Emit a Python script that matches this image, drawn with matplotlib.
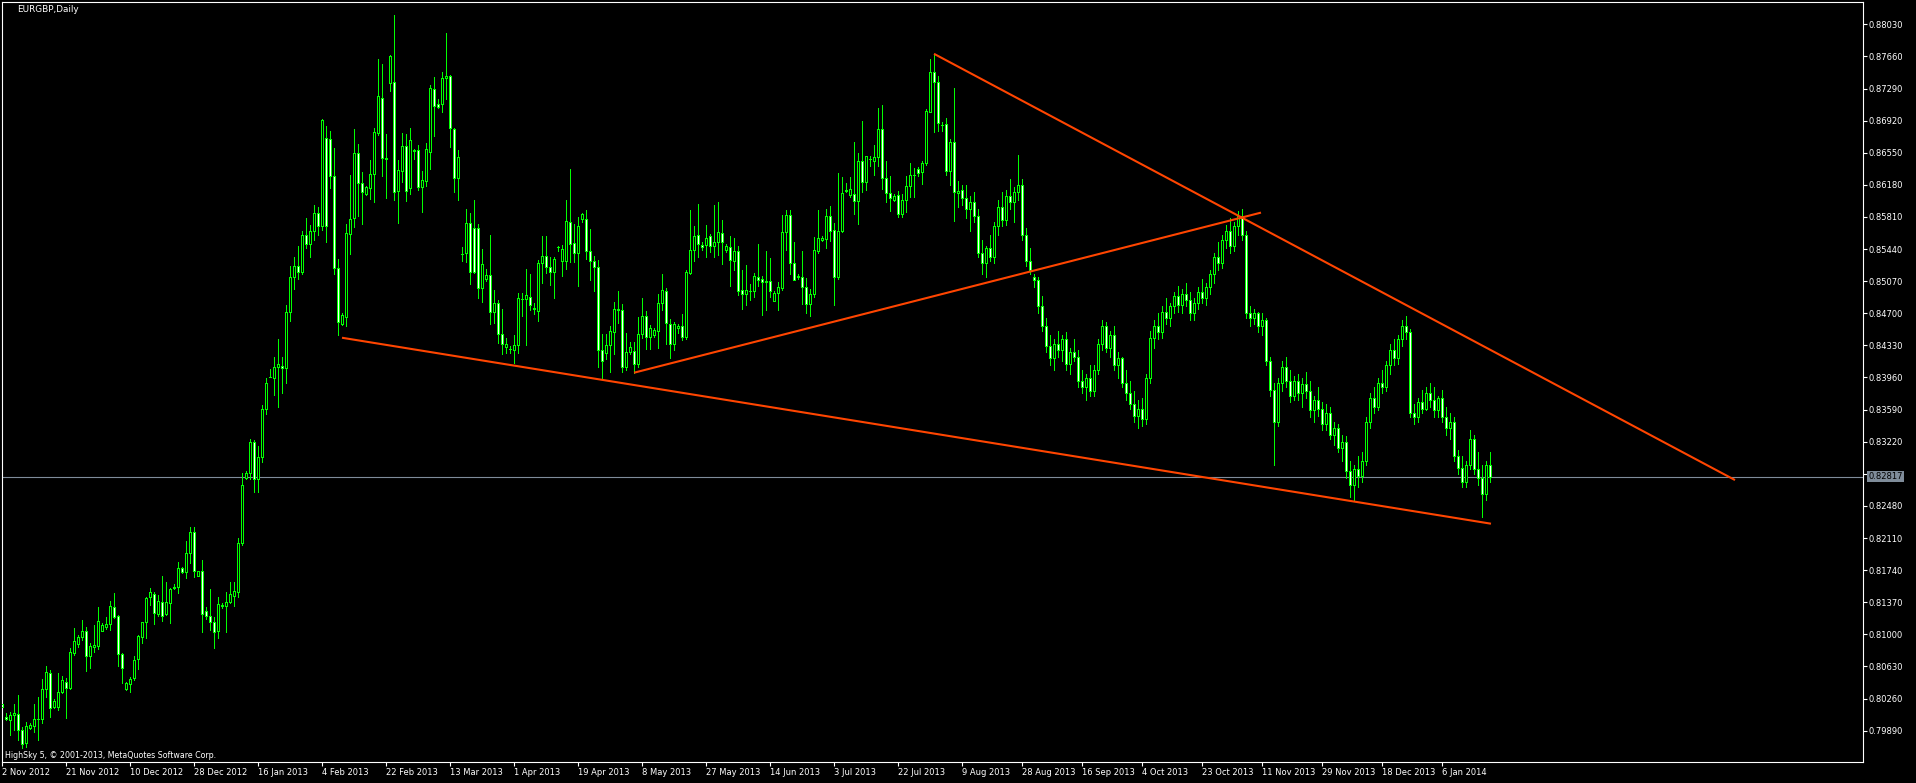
import numpy as np
import matplotlib.pyplot as plt

# EURGBP daily candles, first bar index -1 (prices)
opens = [0.80200, 0.80048, 0.80010, 0.80067, 0.80082, 0.79898, 0.79744, 0.79917, 0.79948, 0.80021,
         0.80021, 0.80367, 0.80551, 0.80167, 0.80167, 0.80340, 0.80447, 0.80386, 0.80789, 0.80885,
         0.80966, 0.81039, 0.80755, 0.80859, 0.80866, 0.81043, 0.81081, 0.81116, 0.81312, 0.81208,
         0.80770, 0.80367, 0.80424, 0.80494, 0.80713, 0.80974, 0.81139, 0.81427, 0.81466, 0.81235,
         0.81377, 0.81231, 0.81366, 0.81530, 0.81542, 0.81769, 0.81723, 0.81934, 0.82176, 0.81677,
         0.81727, 0.81266, 0.81216, 0.81139, 0.81039, 0.81331, 0.81331, 0.81377, 0.81446, 0.81493,
         0.82057, 0.82806, 0.82856, 0.83214, 0.82787, 0.83048, 0.83594, 0.83963, 0.83951, 0.84078,
         0.84094, 0.84067, 0.84712, 0.85115, 0.85250, 0.85180, 0.85600, 0.85500, 0.85650, 0.85850,
         0.85711, 0.86717, 0.86706, 0.86287, 0.85227, 0.84573, 0.84662, 0.85611, 0.85803, 0.86544,
         0.86199, 0.86076, 0.86141, 0.86302, 0.86782, 0.87186, 0.86479, 0.87351, 0.87363, 0.86114,
         0.86344, 0.86633, 0.86141, 0.86580, 0.86579, 0.86160, 0.86229, 0.86563, 0.87282, 0.87109,
         0.87109, 0.87409, 0.87436, 0.86825, 0.86256, 0.85385, 0.85392, 0.85737, 0.85680, 0.85680,
         0.84996, 0.85092, 0.85138, 0.84720, 0.84816, 0.84458, 0.84316, 0.84290, 0.84274, 0.84332,
         0.84870, 0.84862, 0.84893, 0.84755, 0.84731, 0.85277, 0.85365, 0.85238, 0.85173, 0.85465,
         0.85307, 0.85304, 0.85749, 0.85507, 0.85400, 0.85784, 0.85784, 0.85423, 0.85307, 0.85231,
         0.84278, 0.84239, 0.84335, 0.84489, 0.84746, 0.84739, 0.84086, 0.84251, 0.84262, 0.84113,
         0.84458, 0.84670, 0.84425, 0.84444, 0.84501, 0.84816, 0.84959, 0.84574, 0.84344, 0.84528,
         0.84555, 0.84425, 0.85162, 0.85424, 0.85597, 0.85489, 0.85489, 0.85593, 0.85470, 0.85516,
         0.85623, 0.85431, 0.85462, 0.85308, 0.85412, 0.84970, 0.84920, 0.84960, 0.84951, 0.85116,
         0.85097, 0.85055, 0.85074, 0.84836, 0.84932, 0.84989, 0.85635, 0.85835, 0.85285, 0.85120,
         0.85123, 0.85008, 0.84804, 0.84923, 0.85423, 0.85546, 0.85557, 0.85822, 0.85661, 0.85123,
         0.85650, 0.86110, 0.86065, 0.86072, 0.85999, 0.86460, 0.86210, 0.86480, 0.86460, 0.86506,
         0.86825, 0.86257, 0.86084, 0.86007, 0.86065, 0.85845, 0.86007, 0.86161, 0.86295, 0.86360,
         0.86326, 0.86429, 0.87025, 0.87478, 0.87363, 0.86875, 0.86879, 0.86345, 0.86679, 0.86084,
         0.86122,
         0.8603, 0.8590, 0.8598, 0.8582, 0.8540, 0.8528, 0.8545, 0.8535, 0.8570, 0.8592,
         0.8578, 0.8605, 0.8598, 0.8610, 0.8618, 0.8560, 0.8530, 0.8512, 0.8508, 0.8478,
         0.8455, 0.8432, 0.8418, 0.8435, 0.8428, 0.8440, 0.8412, 0.8425, 0.8420, 0.8392,
         0.8385, 0.8395, 0.8380, 0.8405, 0.8435, 0.8455, 0.8430, 0.8445, 0.8410, 0.8418,
         0.8390, 0.8378, 0.8365, 0.8352, 0.8360, 0.8348, 0.8395, 0.8442, 0.8455, 0.8448,
         0.8472, 0.8465, 0.8478, 0.8490, 0.8480, 0.8492, 0.8485, 0.8470, 0.8482, 0.8495,
         0.8488, 0.8500, 0.8515, 0.8535, 0.8528, 0.8555, 0.8565, 0.8548, 0.8570, 0.8582,
         0.8560, 0.8470, 0.8465, 0.8470, 0.8455, 0.8462, 0.8415, 0.8382, 0.8345, 0.8390,
         0.8408, 0.8392, 0.8375, 0.8392, 0.8378, 0.8388, 0.8380, 0.8358, 0.8370, 0.8360,
         0.8342, 0.8355, 0.8330, 0.8338, 0.8315, 0.8322, 0.8288, 0.8272, 0.8290, 0.8282,
         0.8300, 0.8345, 0.8372, 0.8362, 0.8390, 0.8385, 0.8410, 0.8428, 0.8418, 0.8440,
         0.8455, 0.8448, 0.8355, 0.8350, 0.8368, 0.8360, 0.8378, 0.8370, 0.8358, 0.8372,
         0.8350, 0.8338, 0.8345, 0.8305, 0.8292, 0.8275, 0.8295, 0.8325, 0.8290, 0.8280,
         0.8262, 0.8295]
highs = [0.80252, 0.80094, 0.80109, 0.80198, 0.80301, 0.79936, 0.79994, 0.79975, 0.80194, 0.80282,
         0.80482, 0.80636, 0.80590, 0.80252, 0.80551, 0.80520, 0.80494, 0.80839, 0.81070, 0.80993,
         0.81166, 0.81089, 0.80897, 0.81108, 0.81312, 0.81135, 0.81204, 0.81385, 0.81473, 0.81224,
         0.80782, 0.80455, 0.80505, 0.80751, 0.80993, 0.81147, 0.81435, 0.81539, 0.81493, 0.81454,
         0.81673, 0.81600, 0.81531, 0.81581, 0.81831, 0.81781, 0.82076, 0.82234, 0.82234, 0.81735,
         0.81857, 0.81312, 0.81519, 0.81197, 0.81427, 0.81358, 0.81485, 0.81600, 0.81608, 0.82107,
         0.82856, 0.82883, 0.83252, 0.83237, 0.83171, 0.83644, 0.83951, 0.84059, 0.84193, 0.84405,
         0.84193, 0.84797, 0.85250, 0.85350, 0.85480, 0.85650, 0.85800, 0.85720, 0.85950, 0.85920,
         0.86940, 0.86859, 0.86802, 0.86602, 0.85326, 0.84700, 0.85730, 0.86295, 0.86825, 0.86652,
         0.86333, 0.86168, 0.86467, 0.86832, 0.87632, 0.87574, 0.86767, 0.87678, 0.88139, 0.86467,
         0.86779, 0.86763, 0.86832, 0.86594, 0.86640, 0.86341, 0.86660, 0.87332, 0.87420, 0.87167,
         0.87486, 0.87931, 0.87447, 0.86832, 0.86583, 0.85461, 0.85903, 0.85853, 0.86006, 0.85730,
         0.85442, 0.85211, 0.85603, 0.84969, 0.84854, 0.84750, 0.84412, 0.84324, 0.84451, 0.84931,
         0.84931, 0.85211, 0.85154, 0.84816, 0.85315, 0.85592, 0.85592, 0.85346, 0.85354, 0.85477,
         0.85488, 0.86007, 0.86364, 0.85730, 0.85815, 0.85853, 0.85891, 0.85669, 0.85361, 0.85315,
         0.84458, 0.84458, 0.84558, 0.84835, 0.84958, 0.84808, 0.84478, 0.84374, 0.84366, 0.84654,
         0.84873, 0.84728, 0.84567, 0.84528, 0.84924, 0.85155, 0.84989, 0.84632, 0.84605, 0.84578,
         0.84694, 0.85201, 0.85892, 0.85700, 0.85961, 0.85516, 0.85719, 0.85616, 0.85950, 0.85977,
         0.85777, 0.85497, 0.85585, 0.85566, 0.85477, 0.85201, 0.85258, 0.85039, 0.85162, 0.85497,
         0.85135, 0.85412, 0.85335, 0.84959, 0.85059, 0.85835, 0.85892, 0.85892, 0.85516, 0.85155,
         0.85419, 0.85112, 0.84977, 0.85584, 0.85892, 0.85592, 0.85903, 0.85938, 0.85738, 0.86314,
         0.86276, 0.86199, 0.86276, 0.86671, 0.86545, 0.86917, 0.86514, 0.86514, 0.86641, 0.87063,
         0.87102, 0.86456, 0.86284, 0.86076, 0.86111, 0.86076, 0.86284, 0.86429, 0.86372, 0.86391,
         0.86460, 0.87056, 0.87632, 0.87690, 0.87436, 0.86902, 0.86948, 0.86710, 0.87294, 0.86230,
         0.86180,
         0.8618, 0.8605, 0.8610, 0.8590, 0.8555, 0.8548, 0.8560, 0.8575, 0.8600, 0.8610,
         0.8612, 0.8625, 0.8615, 0.8652, 0.8625, 0.8568, 0.8545, 0.8515, 0.8512, 0.8490,
         0.8465, 0.8445, 0.8440, 0.8450, 0.8445, 0.8448, 0.8430, 0.8440, 0.8428, 0.8405,
         0.8400, 0.8410, 0.8410, 0.8440, 0.8462, 0.8460, 0.8450, 0.8455, 0.8425, 0.8420,
         0.8405, 0.8392, 0.8380, 0.8370, 0.8372, 0.8400, 0.8450, 0.8462, 0.8470, 0.8478,
         0.8488, 0.8482, 0.8495, 0.8502, 0.8498, 0.8505, 0.8495, 0.8488, 0.8500, 0.8510,
         0.8505, 0.8520, 0.8540, 0.8552, 0.8560, 0.8572, 0.8580, 0.8575, 0.8588, 0.8590,
         0.8565, 0.8478, 0.8475, 0.8472, 0.8470, 0.8465, 0.8420, 0.8390, 0.8395, 0.8415,
         0.8420, 0.8405, 0.8398, 0.8400, 0.8395, 0.8402, 0.8392, 0.8375, 0.8385, 0.8368,
         0.8365, 0.8362, 0.8345, 0.8342, 0.8330, 0.8328, 0.8300, 0.8295, 0.8305, 0.8310,
         0.8350, 0.8378, 0.8385, 0.8395, 0.8405, 0.8415, 0.8435, 0.8440, 0.8445, 0.8462,
         0.8467, 0.8452, 0.8365, 0.8372, 0.8382, 0.8385, 0.8390, 0.8385, 0.8375, 0.8382,
         0.8362, 0.8355, 0.8350, 0.8312, 0.8305, 0.8300, 0.8335, 0.8330, 0.8310, 0.8295,
         0.8300, 0.8310]
lows = [0.80098, 0.80013, 0.79840, 0.79898, 0.79783, 0.79687, 0.79706, 0.79910, 0.79879, 0.79783,
        0.79983, 0.80282, 0.80052, 0.80148, 0.80129, 0.80321, 0.80040, 0.80367, 0.80763, 0.80859,
        0.80935, 0.80582, 0.80609, 0.80801, 0.80828, 0.81043, 0.81058, 0.81051, 0.81185, 0.80640,
        0.80444, 0.80359, 0.80340, 0.80474, 0.80597, 0.80897, 0.80962, 0.81339, 0.81116, 0.81212,
        0.81158, 0.81224, 0.81135, 0.81519, 0.81481, 0.81712, 0.81646, 0.81827, 0.81658, 0.81670,
        0.81031, 0.81174, 0.81051, 0.80847, 0.80962, 0.81308, 0.81031, 0.81358, 0.81331, 0.81427,
        0.82030, 0.82787, 0.82791, 0.82645, 0.82645, 0.82991, 0.83540, 0.83963, 0.83759, 0.83625,
        0.83778, 0.83894, 0.84616, 0.84980, 0.85100, 0.85150, 0.85450, 0.85350, 0.85550, 0.85600,
        0.85661, 0.85526, 0.86149, 0.85150, 0.84450, 0.84560, 0.84558, 0.85388, 0.85699, 0.85826,
        0.85730, 0.86064, 0.86018, 0.85987, 0.86756, 0.86287, 0.86033, 0.87263, 0.86006, 0.85745,
        0.86218, 0.85995, 0.86076, 0.86479, 0.86122, 0.85872, 0.86168, 0.86364, 0.86744, 0.87071,
        0.87025, 0.87171, 0.86621, 0.86102, 0.86006, 0.85303, 0.85288, 0.85034, 0.85169, 0.84873,
        0.84835, 0.85077, 0.84574, 0.84585, 0.84355, 0.84232, 0.84240, 0.84247, 0.84124, 0.84247,
        0.84674, 0.84335, 0.84739, 0.84693, 0.84616, 0.85054, 0.85169, 0.85027, 0.84881, 0.85423,
        0.85135, 0.85211, 0.85296, 0.85288, 0.85019, 0.85757, 0.85323, 0.85085, 0.84958, 0.84086,
        0.83959, 0.84170, 0.84028, 0.84232, 0.84593, 0.84028, 0.84047, 0.84232, 0.84017, 0.84086,
        0.84412, 0.84290, 0.84290, 0.84425, 0.84305, 0.84732, 0.84344, 0.84190, 0.84279, 0.84471,
        0.84394, 0.84402, 0.85151, 0.85308, 0.85343, 0.85424, 0.85343, 0.85404, 0.85347, 0.85374,
        0.85270, 0.85404, 0.85009, 0.85201, 0.84905, 0.84751, 0.84797, 0.84855, 0.84882, 0.85016,
        0.84682, 0.84740, 0.84882, 0.84836, 0.84740, 0.84970, 0.85424, 0.85155, 0.85078, 0.85097,
        0.84804, 0.84708, 0.84674, 0.84893, 0.85400, 0.85534, 0.85457, 0.85538, 0.84797, 0.85093,
        0.85631, 0.86095, 0.86038, 0.85845, 0.85730, 0.86103, 0.86115, 0.86399, 0.86295, 0.86399,
        0.86134, 0.85980, 0.85884, 0.85999, 0.85807, 0.85807, 0.85872, 0.86038, 0.86045, 0.86284,
        0.86191, 0.86403, 0.87014, 0.86794, 0.86806, 0.86806, 0.86295, 0.86180, 0.85769, 0.85922,
        0.85949,
        0.8580, 0.8565, 0.8575, 0.8535, 0.8515, 0.8512, 0.8530, 0.8528, 0.8560, 0.8570,
        0.8572, 0.8590, 0.8575, 0.8600, 0.8555, 0.8525, 0.8515, 0.8500, 0.8470, 0.8450,
        0.8425, 0.8410, 0.8405, 0.8420, 0.8415, 0.8405, 0.8400, 0.8415, 0.8385, 0.8378,
        0.8370, 0.8375, 0.8375, 0.8400, 0.8428, 0.8425, 0.8420, 0.8405, 0.8395, 0.8385,
        0.8370, 0.8360, 0.8345, 0.8338, 0.8340, 0.8342, 0.8390, 0.8430, 0.8440, 0.8442,
        0.8458, 0.8455, 0.8470, 0.8472, 0.8470, 0.8478, 0.8462, 0.8462, 0.8475, 0.8482,
        0.8480, 0.8492, 0.8505, 0.8520, 0.8522, 0.8545, 0.8540, 0.8542, 0.8560, 0.8555,
        0.8465, 0.8455, 0.8458, 0.8448, 0.8445, 0.8410, 0.8375, 0.8295, 0.8340, 0.8380,
        0.8385, 0.8368, 0.8370, 0.8370, 0.8362, 0.8372, 0.8350, 0.8345, 0.8352, 0.8335,
        0.8335, 0.8325, 0.8318, 0.8310, 0.8300, 0.8280, 0.8258, 0.8255, 0.8270, 0.8275,
        0.8295, 0.8338, 0.8355, 0.8358, 0.8378, 0.8380, 0.8400, 0.8410, 0.8412, 0.8432,
        0.8440, 0.8350, 0.8342, 0.8345, 0.8355, 0.8358, 0.8362, 0.8350, 0.8350, 0.8345,
        0.8330, 0.8325, 0.8300, 0.8285, 0.8270, 0.8270, 0.8290, 0.8285, 0.8272, 0.8235,
        0.8255, 0.8275]
closes = [0.80160, 0.80021, 0.80071, 0.80090, 0.79898, 0.79737, 0.79944, 0.79956, 0.80021, 0.80025,
          0.80371, 0.80563, 0.80148, 0.80232, 0.80332, 0.80474, 0.80378, 0.80793, 0.80924, 0.80966,
          0.81039, 0.80755, 0.80866, 0.80878, 0.81154, 0.81108, 0.81120, 0.81327, 0.81204, 0.80770,
          0.80609, 0.80436, 0.80482, 0.80705, 0.80982, 0.81139, 0.81416, 0.81485, 0.81243, 0.81389,
          0.81216, 0.81369, 0.81519, 0.81542, 0.81761, 0.81723, 0.81934, 0.82176, 0.81735, 0.81727,
          0.81231, 0.81216, 0.81139, 0.81031, 0.81346, 0.81335, 0.81377, 0.81462, 0.81500, 0.82057,
          0.82722, 0.82856, 0.83214, 0.82787, 0.83048, 0.83594, 0.83894, 0.83971, 0.84078, 0.84113,
          0.84067, 0.84712, 0.85115, 0.85250, 0.85180, 0.85600, 0.85500, 0.85650, 0.85850, 0.85711,
          0.86929, 0.85711, 0.86287, 0.85219, 0.84596, 0.84681, 0.85622, 0.85784, 0.86544, 0.86199,
          0.86095, 0.86152, 0.86302, 0.86786, 0.87201, 0.86487, 0.86490, 0.87666, 0.86102, 0.86348,
          0.86625, 0.86114, 0.86694, 0.86575, 0.86160, 0.86233, 0.86594, 0.87293, 0.87094, 0.87082,
          0.87409, 0.87432, 0.86832, 0.86256, 0.86498, 0.85380, 0.85737, 0.85180, 0.85180, 0.84996,
          0.85265, 0.85142, 0.84720, 0.84816, 0.84458, 0.84343, 0.84347, 0.84285, 0.84332, 0.84873,
          0.84866, 0.84912, 0.84796, 0.84750, 0.85277, 0.85365, 0.85238, 0.85173, 0.85327, 0.85469,
          0.85442, 0.85765, 0.85496, 0.85392, 0.85711, 0.85841, 0.85423, 0.85307, 0.85231, 0.84278,
          0.84155, 0.84335, 0.84497, 0.84746, 0.84739, 0.84086, 0.84251, 0.84309, 0.84113, 0.84458,
          0.84670, 0.84425, 0.84528, 0.84509, 0.84816, 0.84970, 0.84586, 0.84344, 0.84574, 0.84559,
          0.84425, 0.85174, 0.85431, 0.85593, 0.85496, 0.85458, 0.85566, 0.85470, 0.85520, 0.85631,
          0.85527, 0.85477, 0.85316, 0.85420, 0.84962, 0.84924, 0.84970, 0.84955, 0.85124, 0.85078,
          0.85059, 0.85074, 0.84959, 0.84939, 0.85001, 0.85635, 0.85835, 0.85285, 0.85078, 0.85124,
          0.85008, 0.84804, 0.84920, 0.85431, 0.85565, 0.85565, 0.85822, 0.85653, 0.85123, 0.85650,
          0.86084, 0.86115, 0.86130, 0.85999, 0.86456, 0.86218, 0.86514, 0.86476, 0.86506, 0.86825,
          0.86257, 0.86084, 0.86034, 0.86057, 0.85845, 0.86007, 0.86161, 0.86295, 0.86299, 0.86322,
          0.86429, 0.87033, 0.87478, 0.87363, 0.86890, 0.86871, 0.86345, 0.86671, 0.86095, 0.86111,
          0.86034,
          0.8590, 0.8598, 0.8582, 0.8540, 0.8528, 0.8545, 0.8535, 0.8570, 0.8592, 0.8578,
          0.8605, 0.8598, 0.8610, 0.8618, 0.8560, 0.8530, 0.8520, 0.8508, 0.8478, 0.8455,
          0.8432, 0.8418, 0.8435, 0.8428, 0.8440, 0.8412, 0.8425, 0.8420, 0.8392, 0.8385,
          0.8395, 0.8380, 0.8405, 0.8435, 0.8455, 0.8430, 0.8445, 0.8410, 0.8418, 0.8390,
          0.8378, 0.8365, 0.8352, 0.8360, 0.8348, 0.8395, 0.8442, 0.8455, 0.8448, 0.8472,
          0.8465, 0.8478, 0.8490, 0.8480, 0.8492, 0.8485, 0.8470, 0.8482, 0.8495, 0.8488,
          0.8500, 0.8515, 0.8535, 0.8528, 0.8555, 0.8565, 0.8548, 0.8570, 0.8582, 0.8560,
          0.8470, 0.8465, 0.8470, 0.8455, 0.8462, 0.8415, 0.8382, 0.8345, 0.8390, 0.8408,
          0.8392, 0.8375, 0.8392, 0.8378, 0.8388, 0.8380, 0.8358, 0.8370, 0.8360, 0.8342,
          0.8355, 0.8330, 0.8338, 0.8315, 0.8322, 0.8288, 0.8272, 0.8290, 0.8282, 0.8300,
          0.8345, 0.8372, 0.8362, 0.8390, 0.8385, 0.8410, 0.8428, 0.8418, 0.8440, 0.8455,
          0.8448, 0.8355, 0.8350, 0.8368, 0.8360, 0.8378, 0.8370, 0.8358, 0.8372, 0.8350,
          0.8338, 0.8345, 0.8305, 0.8292, 0.8275, 0.8295, 0.8325, 0.8290, 0.8280, 0.8262,
          0.8295, 0.82817]
first_bar = -1

date_pos = [-1, 15, 31, 47, 63, 79, 95, 111, 127, 143, 159, 175, 191, 207, 223, 239,
            254, 269, 284, 299, 314, 329, 344, 359]
date_labels = ["2 Nov 2012", "21 Nov 2012", "10 Dec 2012", "28 Dec 2012", "16 Jan 2013",
               "4 Feb 2013", "22 Feb 2013", "13 Mar 2013", "1 Apr 2013", "19 Apr 2013",
               "8 May 2013", "27 May 2013", "14 Jun 2013", "3 Jul 2013", "22 Jul 2013",
               "9 Aug 2013", "28 Aug 2013", "16 Sep 2013", "4 Oct 2013", "23 Oct 2013",
               "11 Nov 2013", "29 Nov 2013", "18 Dec 2013", "6 Jan 2014"]
price_ticks = [0.88030, 0.87660, 0.87290, 0.86920, 0.86550, 0.86180, 0.85810, 0.85440,
               0.85070, 0.84700, 0.84330, 0.83960, 0.83590, 0.83220, 0.82850, 0.82480,
               0.82110, 0.81740, 0.81370, 0.81000, 0.80630, 0.80260, 0.79890]

# trend lines: (bar index, price) end points
support_x, support_y = [84, 371.25], [0.84418, 0.82275]
rising_x, rising_y = [157, 313.75], [0.84015, 0.85860]
falling_x, falling_y = [232, 432.25], [0.87690, 0.82778]
last_price = 0.82817

o = np.array(opens)
h = np.array(highs)
l = np.array(lows)
c = np.array(closes)
x = np.arange(first_bar, first_bar + len(c))
up = c >= o

fig = plt.figure(figsize=(19.16, 7.83), dpi=100, facecolor='black')
ax = fig.add_axes([2 / 1916, 21 / 783, 1861 / 1916, 760 / 783])
ax.set_facecolor('black')

ax.vlines(x, l, h, color='#00ff00', linewidth=0.72, antialiased=False, zorder=2)
ax.bar(x[up], c[up] - o[up], bottom=o[up], width=0.5, color='black',
       edgecolor='#00ff00', linewidth=0.72, antialiased=False, zorder=3)
ax.bar(x[~up], c[~up] - o[~up], bottom=o[~up], width=0.5, color='white',
       edgecolor='#00ff00', linewidth=0.72, antialiased=False, zorder=3)

ax.axhline(last_price, color='#7f8c9a', linewidth=0.8, zorder=1)
for xs, ys in [(support_x, support_y), (rising_x, rising_y), (falling_x, falling_y)]:
    ax.plot(xs, ys, color='#ff4500', linewidth=1.5, solid_capstyle='butt', zorder=4)

ax.set_xlim(-1, 464.25)
ax.set_ylim(0.79529, 0.88287)

for s in ax.spines.values():
    s.set_color('white')
    s.set_linewidth(0.8)

ax.yaxis.tick_right()
ax.set_yticks(price_ticks)
# the label next to the current price is covered by the price box
ax.set_yticklabels(['' if abs(p - last_price) < 0.001 else '%.5f' % p for p in price_ticks])
ax.tick_params(axis='y', colors='white', direction='out', length=3, width=0.8,
               pad=1, labelsize=6)
ax.set_xticks(date_pos)
ax.set_xticklabels(date_labels)
ax.tick_params(axis='x', colors='white', direction='out', length=3, width=0.8,
               pad=1, labelsize=6)
for t in ax.get_xticklabels():
    t.set_horizontalalignment('left')

# current price marker on the axis
ax.text(1.003, last_price, '%.5f' % last_price, transform=ax.get_yaxis_transform(),
        color='black', fontsize=6, va='center', ha='left',
        bbox=dict(boxstyle='square,pad=0.15', fc='#7f8c9a', ec='none'))

fig.text(17 / 1916, 1 - 10 / 783, 'EURGBP,Daily', color='white', fontsize=6.4, va='center')
fig.text(5 / 1916, 1 - 755 / 783, 'HighSky 5, \u00a9 2001-2013, MetaQuotes Software Corp.',
         color='white', fontsize=5.7, va='center')

fig.savefig('out.png', dpi=100, facecolor='black')
